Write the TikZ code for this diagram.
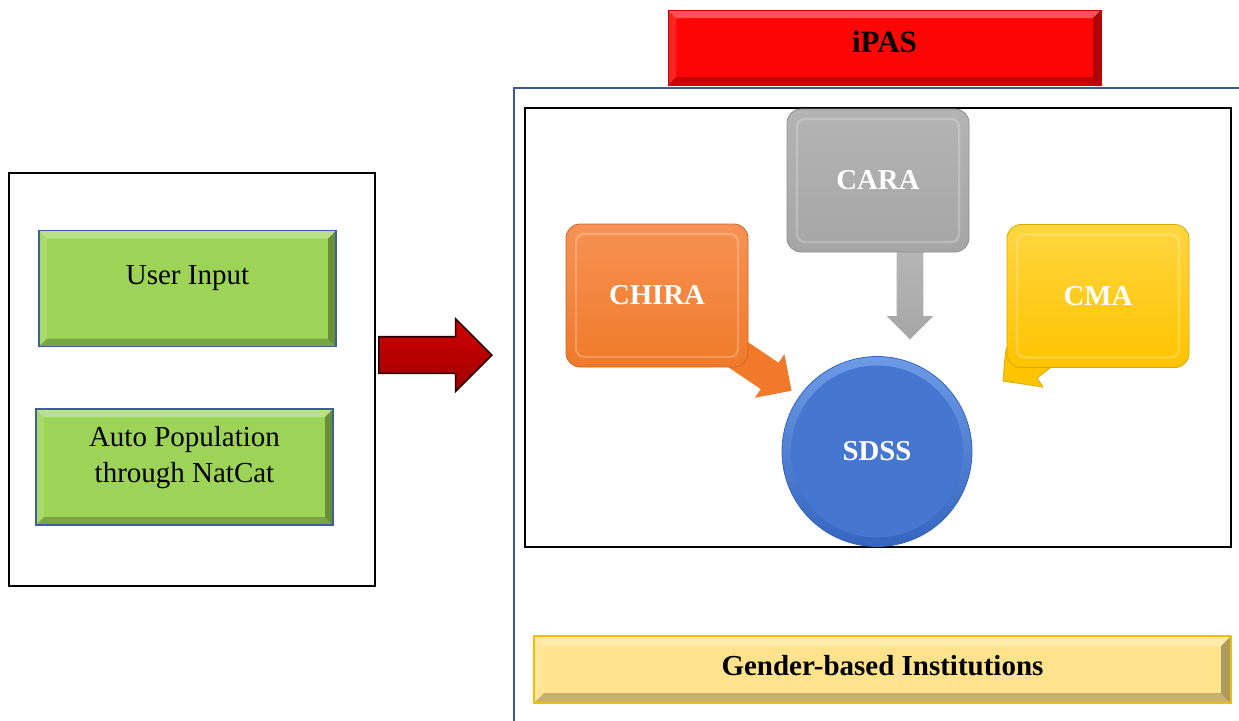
\documentclass[tikz,border=0pt]{standalone}
\usepackage{fontspec}
\setmainfont{Liberation Serif}
\usetikzlibrary{shapes.arrows,shapes.geometric}

\definecolor{edgeblue}{HTML}{3F5E9C}
\definecolor{frameblue}{HTML}{3B5A9A}
\definecolor{leaf}{HTML}{9DD458}
\definecolor{signal}{HTML}{FF0606}
\definecolor{sand}{HTML}{FFE38C}
\definecolor{sandedge}{HTML}{F2BE00}
\definecolor{tangerine}{HTML}{F07A2A}
\definecolor{tangerinetop}{HTML}{F69254}
\definecolor{stone}{HTML}{A6A6A6}
\definecolor{stonetop}{HTML}{B4B4B4}
\definecolor{amber}{HTML}{FFC400}
\definecolor{ambertop}{HTML}{FFD640}
\definecolor{amberedge}{HTML}{E0A800}
\definecolor{royal}{HTML}{4577D0}
\definecolor{royaltop}{HTML}{6E9BE6}
\definecolor{royaldark}{HTML}{3565BE}
\definecolor{arrowtop}{HTML}{D00000}
\definecolor{arrowmid}{HTML}{FF2A2A}
\definecolor{arrowlow}{HTML}{A00000}

% four bevel faces inside the current node, #1 = bevel depth
\newcommand\bevelfaces[1]{%
  \path (path picture bounding box.north west) coordinate (bvA)
        (path picture bounding box.north east) coordinate (bvB)
        (path picture bounding box.south east) coordinate (bvC)
        (path picture bounding box.south west) coordinate (bvD);
  \path ([shift={(#1,-#1)}]bvA) coordinate (bva)
        ([shift={(-#1,-#1)}]bvB) coordinate (bvb)
        ([shift={(-#1,#1)}]bvC) coordinate (bvc)
        ([shift={(#1,#1)}]bvD) coordinate (bvd);
  \fill[white,opacity=.30] (bvA)--(bvB)--(bvb)--(bva)--cycle;
  \fill[white,opacity=.12] (bvA)--(bva)--(bvd)--(bvD)--cycle;
  \fill[black,opacity=.22] (bvD)--(bvd)--(bvc)--(bvC)--cycle;
  \fill[black,opacity=.32] (bvB)--(bvC)--(bvc)--(bvb)--cycle;
}

\begin{document}
\begin{tikzpicture}[x=0.5pt,y=-0.5pt,
  frame/.style={draw=black,line width=1.1pt,inner sep=0pt},
  greenbox/.style={draw=edgeblue,line width=.7pt,fill=leaf,minimum width=148.5pt,
    minimum height=58pt,inner sep=0pt,path picture={\bevelfaces{4pt}}},
  plaintext/.style={font=\fontsize{14.5}{18}\selectfont,align=center,inner sep=0pt},
  boldtext/.style={font=\bfseries\fontsize{14.5}{18}\selectfont,inner sep=0pt},
  tile/.style={rounded corners=7pt,minimum width=91pt,minimum height=71.5pt,inner sep=0pt,
    font=\bfseries\fontsize{14.4}{17}\selectfont,text=white,
    path picture={\draw[white,opacity=.22,line width=1.2pt,rounded corners=4pt]
      ([shift={(5pt,-5pt)}]path picture bounding box.north west) rectangle
      ([shift={(-5pt,5pt)}]path picture bounding box.south east);}},
  % shaft width = 2 x inner ysep (the arrow nodes carry no text)
  blockarrow/.style={single arrow,inner xsep=0pt,anchor=tip,single arrow tip angle=90}
]
\useasboundingbox (0,0) rectangle (1239,720);

% ---------- input side ----------
\node[frame,minimum width=183pt,minimum height=206.5pt] (inputs) at (192,379.5) {};
\node[greenbox] (user) at (187.5,288.5) {};
\node[plaintext] (userT) at (187.5,278) {User Input};
\node[greenbox] (auto) at (184.5,467) {};
\node[plaintext] (autoT) at (184.5,458) {Auto Population\\through NatCat};

% ---------- iPAS container ----------
\coordinate (cBL) at (514,721);
\coordinate (cTL) at (514,88);
\coordinate (cTR) at (1240,88);
\draw[frameblue,line width=1.3pt] (cBL) -- (cTL) -- (cTR);

\node[draw=red!80!black,line width=.5pt,fill=signal,minimum width=216.5pt,minimum height=37.5pt,
  inner sep=0pt,path picture={\bevelfaces{4pt}}] (ipas) at (884.5,47.5) {};
\node[boldtext,font=\bfseries\fontsize{15.5}{18}\selectfont] (ipasT) at (884.5,42) {iPAS};

% transfer arrow from inputs to iPAS
\node[blockarrow,minimum height=56.5pt,inner ysep=8.75pt,single arrow head extend=9pt,
  draw=black!85!red,line width=.8pt,top color=arrowtop,middle color=arrowmid,bottom color=arrowlow]
  (go) at (493,355) {};

\node[frame,minimum width=353pt,minimum height=219.5pt] (core) at (878,327.5) {};

% ---------- arrows into SDSS (drawn below the tiles) ----------
\node[blockarrow,rotate=-90,minimum height=50pt,inner ysep=6.5pt,single arrow head extend=5pt,
  top color=stone!80!white,bottom color=stone] (caraArrow) at (910,340) {};
\node[blockarrow,rotate=-34,minimum height=42pt,inner ysep=7.75pt,single arrow head extend=5.25pt,
  fill=tangerine] (chiraArrow) at (792,391) {};
\fill[amber,draw=amberedge,line width=.4pt] (1010,340) -- (1006,350)
  .. controls (1004,362) and (1004,372) .. (1003,381) -- (1043,387) -- (1037,378) -- (1050,368) -- (1030,340) -- cycle;

% ---------- tiles ----------
\node[tile,top color=stonetop,bottom color=stone,draw=stone!85!black,line width=.4pt] (cara) at (878,180.5) {CARA};
\node[tile,top color=tangerinetop,bottom color=tangerine,draw=tangerine!85!black,line width=.4pt] (chira) at (657,295.5) {CHIRA};
\node[tile,top color=ambertop,bottom color=amber,draw=amber!85!black,line width=.4pt] (cma) at (1098,296) {CMA};

\node[circle,minimum size=95pt,inner sep=0pt,top color=royaltop,bottom color=royaldark,
  draw=royaldark,line width=.4pt] (sdss) at (877,451.5) {};
\fill[royal] (sdss.center) circle (43pt);
\node[boldtext,text=white,font=\bfseries\fontsize{14.4}{17}\selectfont] (sdssT) at (sdss.center) {SDSS};

% ---------- bottom bar ----------
\node[draw=sandedge,line width=.6pt,fill=sand,minimum width=348.5pt,minimum height=33.5pt,
  inner sep=0pt,path picture={\bevelfaces{5pt}}] (gender) at (882.5,669.5) {};
\node[boldtext] (genderT) at (882.5,666) {Gender-based Institutions};
\end{tikzpicture}
\end{document}
